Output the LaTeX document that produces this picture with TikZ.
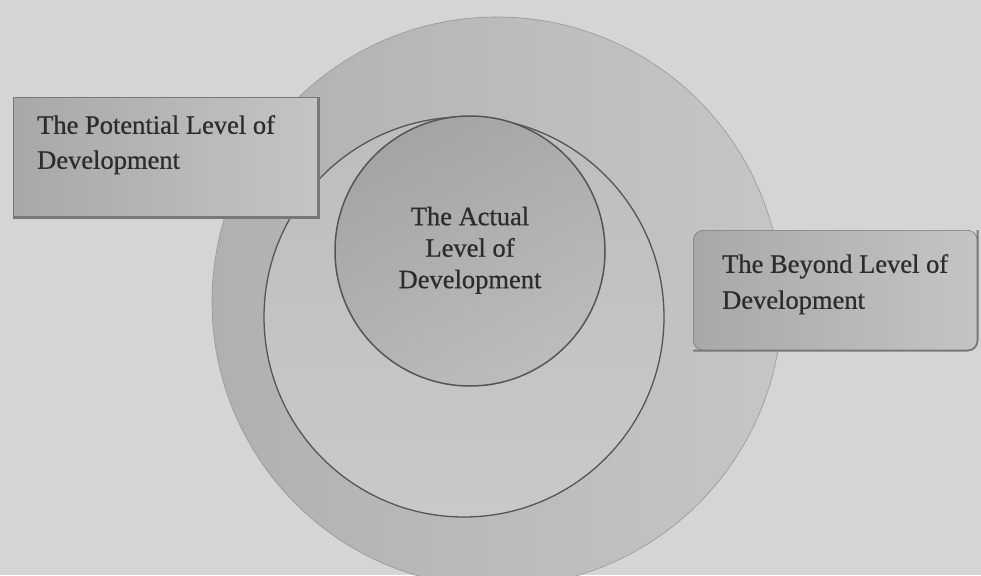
\documentclass[tikz,border=0pt]{standalone}
\usepackage{fontspec}
\setmainfont[FakeBold=0.7]{Liberation Serif}
\definecolor{paper}{HTML}{D5D6D4}
\definecolor{ringA}{HTML}{B0B0B0}
\definecolor{ringB}{HTML}{C6C6C6}
\definecolor{midA}{HTML}{BDBDBD}
\definecolor{midB}{HTML}{C9C9C9}
\definecolor{coreA}{HTML}{A4A4A4}
\definecolor{coreB}{HTML}{BCBCBC}
\definecolor{edge}{HTML}{555555}
\definecolor{boxA}{HTML}{A8A8A8}
\definecolor{boxB}{HTML}{C4C4C4}
\definecolor{boxrim}{HTML}{787878}
\definecolor{ink}{HTML}{2C2C2C}
\begin{document}
\begin{tikzpicture}[x=1pt,y=-1pt,
  outerring/.style={circle, inner sep=0pt, minimum size=570pt,
    left color=ringA, right color=ringB, draw=ringA!85!black, line width=0.6pt},
  midring/.style={circle, inner sep=0pt, minimum size=400pt,
    top color=midA, bottom color=midB, draw=edge, line width=1.3pt},
  corering/.style={circle, inner sep=0pt, minimum size=270pt,
    top color=coreA, bottom color=coreB, shading angle=30, draw=edge, line width=1.5pt},
  labelbox/.style={rectangle, inner sep=0pt, anchor=north west,
    left color=boxA, right color=boxB, draw=boxrim, line width=0.6pt},
  boxrimline/.style={draw=boxrim, line width=2.4pt},
  lbltext/.style={inner sep=0pt, text=ink, font=\fontsize{26.5}{35}\selectfont},
]
% page background
\fill[paper] (0,0) rectangle (981,575);
\useasboundingbox (0,0) rectangle (981,575);

% three nested circles
\node[outerring] (beyond) at (497,302) {};
\node[midring]   (potential) at (464,317) {};
\node[corering]  (actual) at (470,251) {};

% centre label
\node[lbltext, align=center, font=\fontsize{26.5}{31.5}\selectfont]
  (actualtext) at (470,250.3) {The Actual\\Level of\\Development};

% left label box
\node[labelbox, minimum width=305pt, minimum height=120pt] (potbox) at (13,97) {};
\draw[boxrimline] (potbox.north east) -- (potbox.south east) -- (potbox.south west);
\node[lbltext, align=left, anchor=north west] (pottext) at (37,114.9)
  {The Potential Level of\\Development};

% right label box
\node[labelbox, rounded corners=10pt, minimum width=284pt, minimum height=120pt]
  (beybox) at (693,230) {};
\draw[boxrimline, line width=1.8pt, rounded corners=10pt]
  (beybox.north east) -- (beybox.south east) -- (beybox.south west);
\node[lbltext, align=left, anchor=north west, font=\fontsize{26.5}{36}\selectfont]
  (beytext) at (722,253.9) {The Beyond Level of\\Development};
\end{tikzpicture}
\end{document}
